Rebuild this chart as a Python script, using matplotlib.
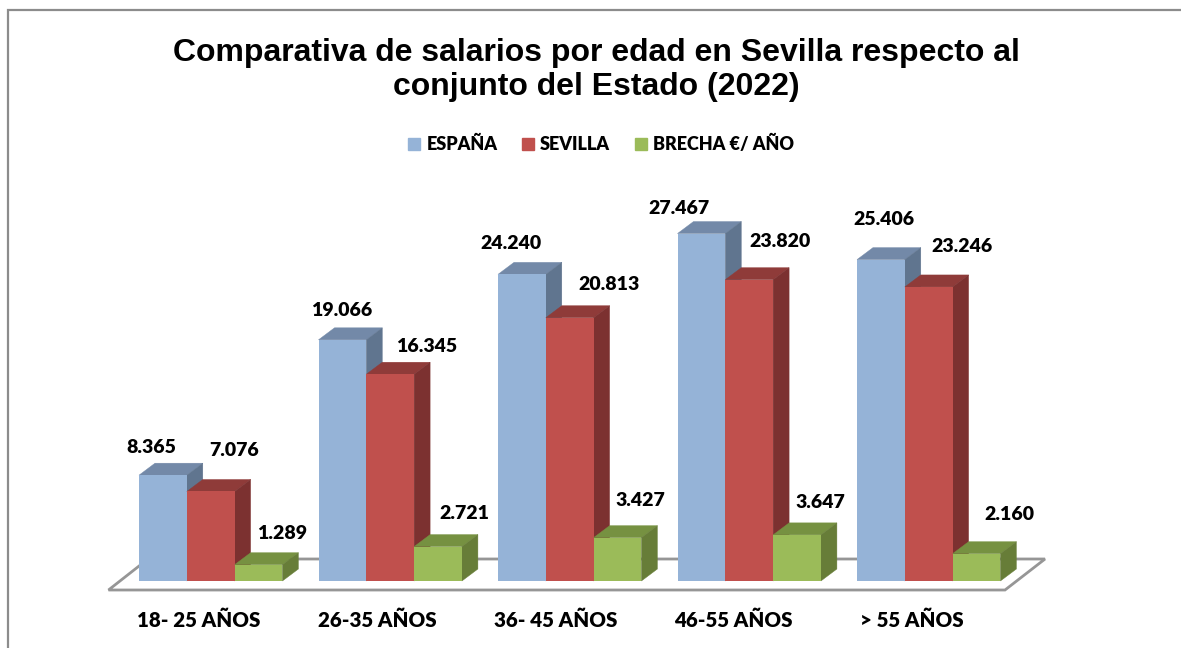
import matplotlib
matplotlib.use('Agg')
import matplotlib.pyplot as plt
from matplotlib.patches import Patch, Polygon

categorias = ['18- 25 AÑOS', '26-35 AÑOS', '36- 45 AÑOS', '46-55 AÑOS', '> 55 AÑOS']
espana = [8365, 19066, 24240, 27467, 25406]
sevilla = [7076, 16345, 20813, 23820, 23246]
brecha = [1289, 2721, 3427, 3647, 2160]
etiquetas_espana = ['8.365', '19.066', '24.240', '27.467', '25.406']
etiquetas_sevilla = ['7.076', '16.345', '20.813', '23.820', '23.246']
etiquetas_brecha = ['1.289', '2.721', '3.427', '3.647', '2.160']

# desplazamiento de cada etiqueta (px) respecto a la esquina sup. izq. de su barra
off_espana = [(12, 28), (23, 29), (13, 31), (1, 25), (27, 40)]
off_sevilla = [(47, 41), (60, 28), (63, 33), (55, 38), (57, 40)]
off_brecha = [(47, 31), (50, 33), (47, 37), (47, 32), (57, 39)]

W, H = 1181, 648
PX = 0.01265      # px por euro
BASE = 581        # linea base en px
ANCHO = 47.8
PASO = 179.5
X0 = 139
DX, DY = 16, 12 / PX

fig = plt.figure(figsize=(W / 100, H / 100), dpi=100)
ax = fig.add_axes([0, 0, 1, 1])
ax.set_xlim(0, W)
ax.set_ylim(-(H - BASE) / PX, BASE / PX)
ax.axis('off')

# marco
ax.plot([8, 8, W], [-(H - BASE) / PX, (BASE - 10) / PX, (BASE - 10) / PX], color='#8c8c8c', lw=1.6,
        solid_joinstyle='miter')

# suelo
suelo = [(108.5, -9 / PX), (1005, -9 / PX), (1045, 22 / PX), (148, 22 / PX)]
ax.add_patch(Polygon(suelo, closed=True, fc='white', ec='#969696', lw=2, zorder=1))

series = [
    (espana, etiquetas_espana, off_espana, '#95B3D7', '#7389A8', '#60758F'),
    (sevilla, etiquetas_sevilla, off_sevilla, '#C0504D', '#8F3B39', '#7C3130'),
    (brecha, etiquetas_brecha, off_brecha, '#9BBB59', '#769141', '#677D38'),
]

for s, (vals, etqs, offs, frente, tapa, lado) in enumerate(series):
    z = 2 + s
    xs = [X0 + PASO * i + ANCHO * s for i in range(len(vals))]
    ax.bar(xs, vals, width=ANCHO, align='edge', color=frente, zorder=z + 0.5)
    for x, v, t, o in zip(xs, vals, etqs, offs):
        ax.add_patch(Polygon([(x, v), (x + ANCHO, v), (x + ANCHO + DX, v + DY), (x + DX, v + DY)],
                             closed=True, fc=tapa, ec=tapa, lw=0.3, zorder=z))
        ax.add_patch(Polygon([(x + ANCHO, 0), (x + ANCHO + DX, DY), (x + ANCHO + DX, v + DY), (x + ANCHO, v)],
                             closed=True, fc=lado, ec=lado, lw=0.3, zorder=z))
        ax.annotate(t, (x, v), xytext=o, textcoords='offset pixels', ha='center', va='center',
                    family='Lato', weight='heavy', fontsize=14, color='black', zorder=10)

for i, c in enumerate(categorias):
    ax.text(198.5 + 178.4 * i, -(620 - BASE) / PX, c, ha='center', va='center',
            family='Lato', weight='heavy', fontsize=14.8, color='black')

ax.text(596.5, (BASE - 70) / PX, 'Comparativa de salarios por edad en Sevilla respecto al\nconjunto del Estado (2022)',
        ha='center', va='center', family='Liberation Sans', weight='bold', fontsize=23.05, linespacing=1.15)

manos = [Patch(color=series[k][3]) for k in range(3)]
ax.legend(manos, ['ESPAÑA', 'SEVILLA', 'BRECHA €/ AÑO'], ncol=3, frameon=False,
          loc='center', bbox_to_anchor=(601 / W, 1 - 144 / H),
          prop={'family': 'Lato', 'weight': 'heavy', 'size': 13},
          handlelength=0.66, handleheight=0.66, handletextpad=0.33, columnspacing=1.37)

fig.savefig('out.png', dpi=100)
